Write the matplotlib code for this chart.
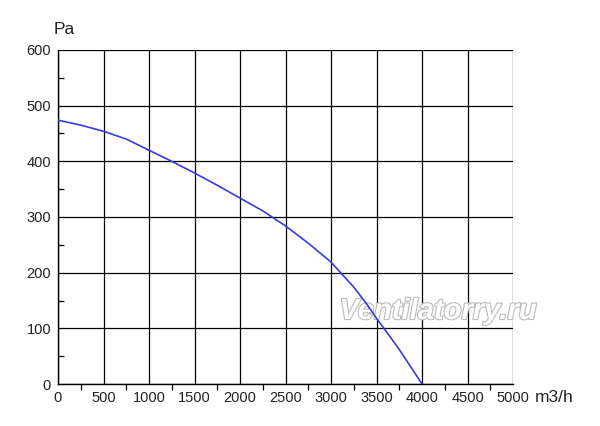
import matplotlib
matplotlib.use("Agg")
import matplotlib.pyplot as plt
import matplotlib.patheffects as pe

flow = [0, 250, 500, 750, 1000, 1250, 1500, 1750, 2000, 2250, 2500, 2750, 3000, 3100, 3250, 3400, 3500, 3600, 3750, 3900, 4000]
pressure = [474, 465, 454, 440, 420, 400, 379, 357, 334, 311, 284, 253, 219, 201, 174, 142, 118, 96, 62, 25, 0]
xticks = [0, 500, 1000, 1500, 2000, 2500, 3000, 3500, 4000, 4500, 5000]
yticks = [0, 100, 200, 300, 400, 500, 600]

plt.rcParams['font.family'] = ['Liberation Sans', 'DejaVu Sans']
fig = plt.figure(figsize=(6, 4.26), dpi=100)
ax = fig.add_axes([58/600, 42/426, 455/600, 334/426])
ax.set_axisbelow(True)

ax.plot(flow, pressure, color='#3a3ae0', lw=1.2, zorder=3, solid_joinstyle='round')
ax.set_xlim(0, 5000)
ax.set_ylim(0, 600)
ax.set_xticks(xticks)
ax.set_yticks(yticks)
ax.set_xticks([250 + 500*i for i in range(10)], minor=True)
ax.set_yticks([50 + 100*i for i in range(6)], minor=True)
ax.grid(True, which='major', color='black', lw=0.9)
ax.tick_params(which='major', length=0, labelsize=10.5, pad=5, colors='#222222')
ax.tick_params(axis='x', which='minor', direction='out', length=4, width=0.9)
ax.tick_params(axis='y', which='minor', direction='in', length=4, width=0.9)
for s in ax.spines.values():
    s.set_linewidth(1.0)
ax.spines['top'].set_visible(False)
ax.spines['right'].set_visible(False)

fig.text(54/600, 1-30/426, 'Pa', fontsize=12.5, ha='left', va='center', color='#222222')
fig.text(535/600, 1-397/426, 'm3/h', fontsize=12.5, ha='left', va='center', color='#222222')

t = ax.text(438/600, 1-311/426, 'Ventilatorry.ru', fontsize=21, style='italic', weight='bold',
            ha='center', va='center', color='white', zorder=2.5,
            transform=fig.transFigure, clip_on=False)
t.set_path_effects([pe.Stroke(linewidth=1.6, foreground='#bbbbbb'), pe.Normal()])

fig.savefig('out.png', dpi=100)
